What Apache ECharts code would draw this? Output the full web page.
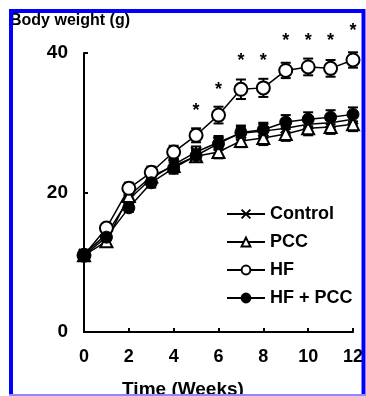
<!DOCTYPE html>
<html><head><meta charset="utf-8">
<script src="https://cdn.jsdelivr.net/npm/echarts@6/dist/echarts.min.js"></script>
<style>html,body{margin:0;padding:0;background:#fff}#c{width:366px;height:396px}</style>
</head><body><div id="c"></div>
<script>
var weeks = [0,1,2,3,4,5,6,7,8,9,10,11,12];
var controlMean = [11.2, 14.0, 19.0, 22.0, 24.0, 25.8, 27.2, 28.5, 28.8, 29.2, 29.8, 30.0, 30.5];
var pccMean     = [11.0, 13.0, 19.5, 22.3, 23.8, 25.2, 25.8, 27.4, 27.8, 28.4, 29.2, 29.4, 29.8];
var hfMean      = [11.0, 14.9, 20.6, 22.9, 25.8, 28.2, 31.1, 34.8, 35.0, 37.5, 38.0, 37.8, 39.0];
var hfPccMean   = [11.0, 13.6, 17.8, 21.4, 23.5, 25.3, 27.0, 28.6, 29.0, 30.1, 30.5, 30.8, 31.2];
var controlErr  = [0.4, 0.5, 0.6, 0.7, 0.8, 0.8, 0.9, 0.9, 1.0, 1.0, 1.0, 1.0, 1.0];
var pccErr      = [0.4, 0.5, 0.6, 0.7, 0.8, 0.8, 0.9, 0.9, 1.0, 1.0, 1.0, 1.0, 1.0];
var hfErr       = [0.5, 0.6, 0.8, 0.8, 0.9, 1.0, 1.2, 1.4, 1.3, 1.1, 1.2, 1.2, 1.1];
var hfPccErr    = [0.4, 0.5, 0.6, 0.7, 0.8, 0.9, 0.9, 1.0, 1.0, 1.0, 1.0, 1.0, 1.0];
var starWeeks   = [5, 6, 7, 8, 9, 10, 11, 12];
var starValues  = [32.2, 35.2, 39.4, 39.4, 42.3, 42.3, 42.3, 43.7];
var yTicks = [0, 20, 40];
var xTicks = [0, 2, 4, 6, 8, 10, 12];
var seriesNames = ['Control', 'PCC', 'HF', 'HF + PCC'];
var yTitle = 'Body weight (g)';
var xTitle = 'Time (Weeks)';

function pairs(m){ return weeks.map(function(w,i){ return [w, m[i]]; }); }
function errData(m,e){ return weeks.map(function(w,i){ return [w, m[i]-e[i], m[i]+e[i]]; }); }
function errSeries(m,e){
  return {
    type:'custom', z:1, silent:true, clip:false,
    data: errData(m,e),
    renderItem: function(params, api){
      var x = api.value(0);
      var lo = api.coord([x, api.value(1)]);
      var hi = api.coord([x, api.value(2)]);
      var hw = 5;
      return {type:'group', children:[
        {type:'line', shape:{x1:lo[0],y1:lo[1],x2:hi[0],y2:hi[1]}, style:{stroke:'#000',lineWidth:2}},
        {type:'line', shape:{x1:lo[0]-hw,y1:lo[1],x2:lo[0]+hw,y2:lo[1]}, style:{stroke:'#000',lineWidth:2}},
        {type:'line', shape:{x1:hi[0]-hw,y1:hi[1],x2:hi[0]+hw,y2:hi[1]}, style:{stroke:'#000',lineWidth:2}}
      ]};
    }
  };
}
var xSym = 'path://M0,0L10,10M10,0L0,10';
var chart = echarts.init(document.getElementById('c'));
var lineBase = {type:'line', z:3, lineStyle:{color:'#000', width:1.5}};
chart.setOption({
  animation:false,
  grid:{left:84, right:9, top:53, bottom:64},
  xAxis:{type:'value', min:0, max:12, interval:2,
    axisLine:{lineStyle:{color:'#000', width:2}},
    axisTick:{inside:true, length:4, lineStyle:{color:'#000', width:2}},
    axisLabel:{color:'#000', fontFamily:'Liberation Sans, Arial', fontWeight:'bold', fontSize:18, margin:16,
      formatter:function(v){ return xTicks.indexOf(v)>=0 ? String(v) : ''; }},
    splitLine:{show:false}},
  yAxis:{type:'value', min:0, max:40, interval:20,
    axisLine:{show:true, lineStyle:{color:'#000', width:2}},
    axisTick:{show:true, inside:true, length:4, lineStyle:{color:'#000', width:2}},
    axisLabel:{color:'#000', fontFamily:'Liberation Sans, Arial', fontWeight:'bold', fontSize:19, margin:16,
      formatter:function(v){ return yTicks.indexOf(v)>=0 ? String(v) : ''; }},
    splitLine:{show:false}},
  legend:{orient:'vertical', left:226, top:204, itemWidth:38, itemHeight:11, itemGap:8, padding:0,
    data:seriesNames,
    textStyle:{color:'#000', fontFamily:'Liberation Sans, Arial', fontWeight:'bold', fontSize:18, lineHeight:20}},
  series:[
    errSeries(controlMean, controlErr),
    errSeries(pccMean, pccErr),
    errSeries(hfMean, hfErr),
    errSeries(hfPccMean, hfPccErr),
    Object.assign({}, lineBase, {name:seriesNames[0], data:pairs(controlMean), symbol:xSym, symbolSize:10,
      itemStyle:{color:'#000', borderColor:'#000', borderWidth:2}}),
    Object.assign({}, lineBase, {name:seriesNames[1], data:pairs(pccMean), symbol:'triangle', symbolSize:12,
      itemStyle:{color:'#fff', borderColor:'#000', borderWidth:2}}),
    Object.assign({}, lineBase, {name:seriesNames[2], data:pairs(hfMean), symbol:'circle', symbolSize:13,
      itemStyle:{color:'#fff', borderColor:'#000', borderWidth:2}}),
    Object.assign({}, lineBase, {name:seriesNames[3], data:pairs(hfPccMean), symbol:'circle', symbolSize:12,
      itemStyle:{color:'#000', borderColor:'#000', borderWidth:1}}),
    {type:'custom', z:5, silent:true, clip:false,
      data: starWeeks.map(function(w,i){ return [w, starValues[i]]; }),
      renderItem:function(params, api){
        var p = api.coord([api.value(0), api.value(1)]);
        return {type:'text', x:p[0], y:p[1]+4, style:{text:'*', fill:'#000', fontSize:18, fontWeight:'bold',
          fontFamily:'Liberation Sans, Arial', align:'center', verticalAlign:'middle'}};
      }}
  ],
  graphic:[
    {type:'text', left:10, top:13, z:50, style:{text:yTitle, fill:'#000', fontSize:16, fontWeight:'bold', fontFamily:'Liberation Sans, Arial'}},
    {type:'text', left:'center', top:380, z:50, style:{text:xTitle, fill:'#000', fontSize:19, fontWeight:'bold', fontFamily:'Liberation Sans, Arial'}},
    {type:'polyline', z:100, silent:true, shape:{points:[[11,396],[11,11],[363.5,11],[363.5,396]]}, style:{stroke:'#0000ff', lineWidth:4, fill:null}},
    {type:'line', z:100, silent:true, shape:{x1:9,y1:395,x2:366,y2:395}, style:{stroke:'#8a8aff', lineWidth:2}}
  ]
});
</script></body></html>
